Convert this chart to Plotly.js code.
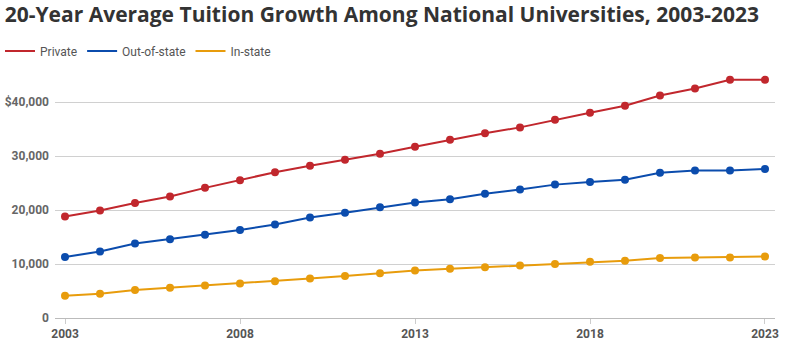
<!DOCTYPE html>
<html>
<head>
<meta charset="utf-8">
<script src="https://cdn.plot.ly/plotly-3.0.1.min.js"></script>
<style>html,body{margin:0;padding:0;background:#fff;}#chart{width:791px;height:355px;}</style>
</head>
<body>
<div id="chart"></div>
<script>
const years = [2003,2004,2005,2006,2007,2008,2009,2010,2011,2012,2013,2014,2015,2016,2017,2018,2019,2020,2021,2022,2023];
const privateTuition = [18800,19900,21300,22500,24100,25500,27000,28200,29300,30400,31700,33000,34200,35300,36700,38000,39300,41200,42500,44100,44100];
const outOfStateTuition = [11300,12300,13800,14600,15400,16300,17300,18600,19500,20500,21400,22000,23000,23800,24700,25200,25600,26900,27300,27300,27600];
const inStateTuition = [4100,4500,5200,5600,6000,6400,6800,7300,7800,8300,8800,9100,9400,9700,10000,10400,10600,11100,11200,11200,11400];
const seriesNames = ["Private","Out-of-state","In-state"];
const seriesColors = ["#c1272d","#0b4cad","#e89c0c"];
const xTicks = [2003,2008,2013,2018,2023];
const yTicks = [0,10000,20000,30000,40000];
const yTickText = ["0","10,000","20,000","30,000","$40,000"];

const seriesData = [privateTuition, outOfStateTuition, inStateTuition];
const traces = [];
seriesData.forEach((vals, i) => {
  traces.push({
    x: years, y: vals, name: seriesNames[i], type: 'scatter', mode: 'lines+markers',
    line: {color: seriesColors[i], width: 2},
    marker: {color: seriesColors[i], size: 8},
    showlegend: false, hoverinfo: 'skip'
  });
});
seriesData.forEach((vals, i) => {
  traces.push({
    x: [null], y: [null], name: seriesNames[i], type: 'scatter', mode: 'lines',
    line: {color: seriesColors[i], width: 2}, showlegend: true
  });
});

const layout = {
  width: 791, height: 355,
  paper_bgcolor: '#fff', plot_bgcolor: '#fff',
  margin: {l: 55, r: 16, t: 75, b: 37, autoexpand: false},
  title: {text: '<b>20-Year Average Tuition Growth Among National Universities, 2003-2023</b>',
    x: 0.006, xanchor: 'left', xref: 'container', y: 0.958, yref: 'container', yanchor: 'middle',
    font: {family: 'Open Sans, sans-serif', size: 21, color: '#333'}},
  showlegend: true,
  legend: {orientation: 'h', xref: 'container', yref: 'container', x: -0.009, xanchor: 'left', y: 0.856, yanchor: 'middle',
    font: {family: 'Roboto, sans-serif', size: 12, color: '#555'},
    itemwidth: 30, traceorder: 'normal', tracegroupgap: 0},
  xaxis: {range: [2002.714, 2023.286], tickvals: xTicks, ticktext: xTicks.map(String), automargin: false,
    showgrid: false, zeroline: false, ticks: 'outside', ticklen: 5, tickcolor: '#ccc',
    showline: false, tickfont: {family: 'Roboto, sans-serif', size: 12, color: '#555', weight: 'bold'}},
  yaxis: {range: [0, 45000], tickvals: yTicks, ticktext: yTickText, automargin: false,
    showgrid: true, gridcolor: '#d0d0d0', gridwidth: 1, zeroline: true, zerolinecolor: '#bbb', zerolinewidth: 1,
    ticks: '', ticklabelstandoff: 5,
    tickfont: {family: 'Roboto, sans-serif', size: 12, color: '#666', weight: 'bold'}}
};
Plotly.newPlot('chart', traces, layout, {displayModeBar: false, staticPlot: true});
</script>
</body>
</html>
